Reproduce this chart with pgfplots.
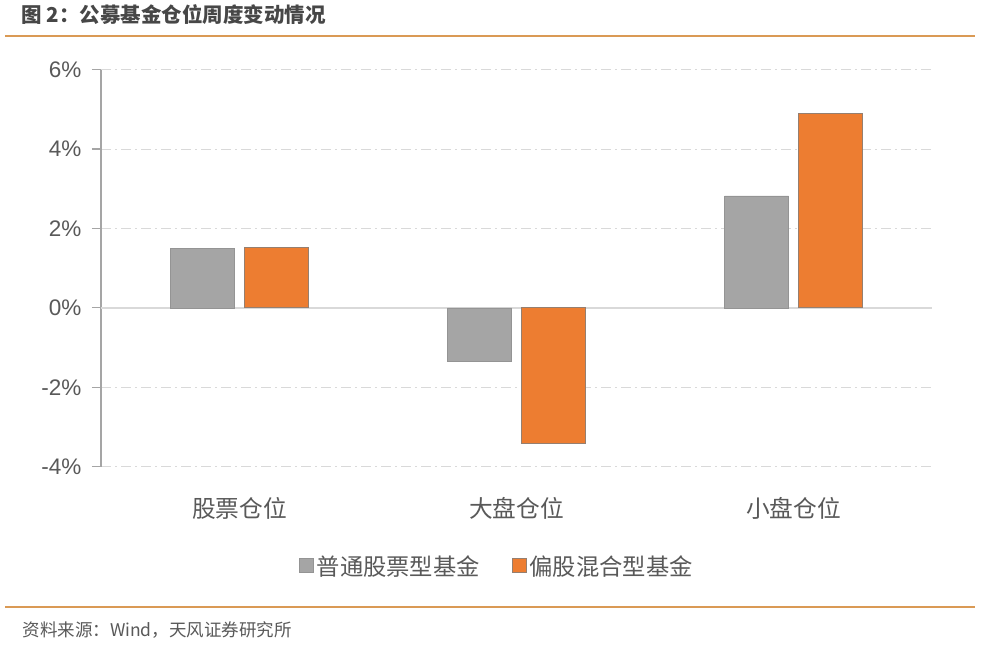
\documentclass[border=0pt]{standalone}
\usepackage{pgfplots}
\pgfplotsset{compat=1.18}
\usepackage{fontspec}
\setmainfont{Liberation Sans}
\newfontfamily\cjk{Noto Sans CJK SC}
\definecolor{cgray}{HTML}{A5A5A5}
\definecolor{corange}{HTML}{ED7D31}
\definecolor{ctext}{HTML}{595959}
\definecolor{cline}{HTML}{DA9A55}
\definecolor{cgrid}{HTML}{D9D9D9}
\begin{document}
\begin{tikzpicture}
\path[fill=white] (0pt,0pt) rectangle (982pt,651pt);
% title and rules
\node[anchor=west,text=ctext!80!black,font=\cjk\bfseries\fontsize{20.5}{24}\selectfont] at (18pt,636pt) {图 2：公募基金仓位周度变动情况};
\draw[cline,line width=2pt] (5pt,615pt) -- (975pt,615pt);
\draw[cline,line width=2pt] (5pt,44pt) -- (975pt,44pt);
\node[anchor=west,text=ctext,font=\cjk\fontsize{17.5}{21}\selectfont] at (19pt,21pt) {资料来源：Wind，天风证券研究所};
\begin{axis}[
  at={(101pt,184.3pt)}, anchor=south west,
  width=831pt, height=397pt, scale only axis,
  xmin=-0.5, xmax=2.5, ymin=-4, ymax=6,
  xtick={0,1,2}, xticklabels={股票仓位,大盘仓位,小盘仓位},
  ytick={-4,-2,0,2,4,6},
  yticklabel={\pgfmathprintnumber{\tick}\%},
  /pgf/number format/assume math mode=true,
  axis lines*=left,
  x axis line style={draw=none},
  y axis line style={draw=cgray,line width=1.2pt},
  xtick style={draw=none},
  ytick style={draw=cgray,line width=1.2pt},
  tick align=outside, major tick length=9pt,
  ymajorgrids,
  major grid style={draw=cgrid,line width=1pt,dash pattern=on 10pt off 4pt on 2pt off 4pt},
  yticklabel style={font=\fontsize{22.5}{26}\selectfont,text=ctext,xshift=-7pt},
  xticklabel style={font=\cjk\fontsize{23.7}{28}\selectfont,text=ctext,yshift=-18pt},
  ybar, bar width=64pt,
  clip=false,
  legend columns=2,
  legend style={at={(0.4765,-0.25)},anchor=center,draw=none,fill=none,
    font=\cjk\fontsize{23.3}{28}\selectfont,text=ctext,
    /tikz/every even column/.append style={column sep=30pt}},
  legend image code/.code={\fill[#1] (0pt,-6pt) rectangle (14pt,8pt);},
]
\draw[cgrid,line width=1.5pt] (axis cs:-0.5,0) -- (axis cs:2.5,0);
\addplot[fill=cgray,draw=cgray!90!black,line width=0.6pt,bar shift=-37pt] coordinates {(0,1.49) (1,-1.34) (2,2.82)};
\addplot[fill=corange,draw=gray!80!corange,line width=0.8pt,bar shift=37pt] coordinates {(0,1.53) (1,-3.41) (2,4.90)};
\legend{\hspace{1pt}普通股票型基金,\hspace{1pt}偏股混合型基金}
\end{axis}
\end{tikzpicture}
\end{document}
